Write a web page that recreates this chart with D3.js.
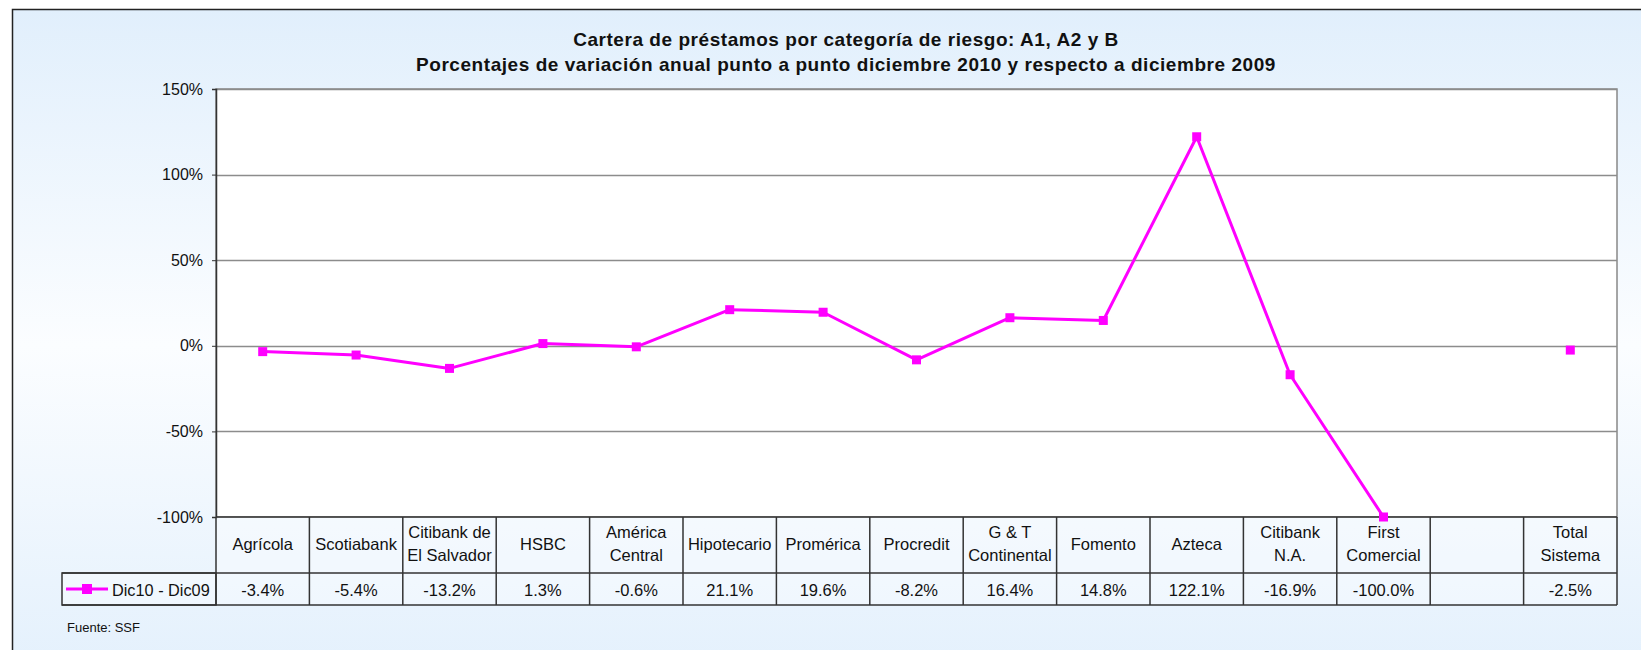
<!DOCTYPE html>
<head>
	<meta charset="utf-8">
	<title>Cartera de préstamos por categoría de riesgo</title>
	<script src="https://cdn.jsdelivr.net/npm/d3@7"></script>
	<style>
		body { margin: 0; background: #fff; }
		svg { display: block; font-family: "Liberation Sans", Arial, sans-serif; }
	</style>
</head>

<body>
	<div id="chart"></div>

  <script>
	// categories (two text lines each) and the one series
	var categories = [
		["Agrícola"], ["Scotiabank"], ["Citibank de", "El Salvador"], ["HSBC"],
		["América", "Central"], ["Hipotecario"], ["Promérica"], ["Procredit"],
		["G & T", "Continental"], ["Fomento"], ["Azteca"], ["Citibank", "N.A."],
		["First", "Comercial"], [""], ["Total", "Sistema"]
	];
	var seriesName = "Dic10 - Dic09";
	var values = [-3.4, -5.4, -13.2, 1.3, -0.6, 21.1, 19.6, -8.2, 16.4, 14.8, 122.1, -16.9, -100.0, null, -2.5];
	var yTicks = [-100, -50, 0, 50, 100, 150];
	var titleLines = [
		"Cartera de préstamos por categoría de riesgo: A1, A2 y B",
		"Porcentajes de variación anual punto a punto diciembre 2010 y respecto a diciembre 2009"
	];
	var source = "Fuente: SSF";

	var width = 1641, height = 650;
	var plot = {left: 216, right: 1617, top: 89, bottom: 517};
	var headRow = 573, valueRow = 605, legendLeft = 62;
	var magenta = "#ff00ff";

	var svg = d3.select("#chart").append("svg")
		.attr("width", width)
		.attr("height", height);

	// background gradient of the chart area
	var grad = svg.append("defs").append("linearGradient")
		.attr("id", "bg").attr("x1", 0).attr("y1", 0).attr("x2", 0).attr("y2", 1);
	grad.append("stop").attr("offset", "0%").attr("stop-color", "#e1effc");
	grad.append("stop").attr("offset", "48%").attr("stop-color", "#fbfdff");
	grad.append("stop").attr("offset", "100%").attr("stop-color", "#e1effc");

	svg.append("rect")
		.attr("x", 12.5).attr("y", 9.5)
		.attr("width", 1700).attr("height", 700)
		.attr("fill", "url(#bg)")
		.attr("stroke", "#222").attr("stroke-width", 1.5);

	var x = d3.scaleBand()
		.domain(d3.range(categories.length))
		.range([plot.left, plot.right]);

	var y = d3.scaleLinear()
		.domain([-100, 150])
		.range([plot.bottom, plot.top]);

	// plot area
	svg.append("rect")
		.attr("x", plot.left).attr("y", plot.top)
		.attr("width", plot.right - plot.left).attr("height", plot.bottom - plot.top)
		.attr("fill", "#fff")
		.attr("stroke", "#888").attr("stroke-width", 1.5);

	// gridlines
	svg.append("g")
		.selectAll("line")
		.data(yTicks.filter(function (d) { return d > -100; }))
		.enter().append("line")
			.attr("x1", plot.left).attr("x2", plot.right)
			.attr("y1", function (d) { return Math.round(y(d)) + 0.5; })
			.attr("y2", function (d) { return Math.round(y(d)) + 0.5; })
			.attr("stroke", "#8c8c8c").attr("stroke-width", 1.5);

	// y axis
	var yAxis = svg.append("g")
		.attr("transform", "translate(" + plot.left + ",0)")
		.call(d3.axisLeft(y)
			.tickValues(yTicks)
			.tickSize(4)
			.tickPadding(9)
			.tickFormat(function (d) { return d + "%"; }));
	yAxis.select(".domain").attr("stroke", "#333").attr("stroke-width", 1.5);
	yAxis.selectAll(".tick line").attr("stroke", "#333");
	yAxis.selectAll("text")
		.attr("fill", "#111")
		.style("font-size", "16px")
		.style("font-family", "'Liberation Sans', Arial, sans-serif");

	// data table
	var table = svg.append("g");
	table.selectAll("rect.cell")
		.data(categories)
		.enter().append("rect")
			.attr("class", "cell")
			.attr("x", function (d, i) { return x(i); })
			.attr("y", plot.bottom)
			.attr("width", x.bandwidth())
			.attr("height", valueRow - plot.bottom)
			.attr("fill", "rgba(255,255,255,0.35)");
	table.append("rect")
		.attr("x", legendLeft).attr("y", headRow)
		.attr("width", plot.left - legendLeft).attr("height", valueRow - headRow)
		.attr("fill", "rgba(255,255,255,0.35)")
		.attr("stroke", "#333").attr("stroke-width", 1.5);

	table.selectAll("line.col")
		.data(d3.range(categories.length + 1))
		.enter().append("line")
			.attr("class", "col")
			.attr("x1", function (i) { return i < categories.length ? x(i) : plot.right; })
			.attr("x2", function (i) { return i < categories.length ? x(i) : plot.right; })
			.attr("y1", plot.bottom).attr("y2", valueRow)
			.attr("stroke", "#333").attr("stroke-width", 1.5);
	[plot.bottom, headRow, valueRow].forEach(function (yy) {
		table.append("line")
			.attr("x1", yy === plot.bottom ? plot.left : legendLeft).attr("x2", plot.right)
			.attr("y1", yy).attr("y2", yy)
			.attr("stroke", "#333").attr("stroke-width", 1.5);
	});

	table.selectAll("text.cat")
		.data(categories)
		.enter().append("text")
			.attr("class", "cat")
			.attr("text-anchor", "middle")
			.attr("font-size", 16.5)
			.attr("fill", "#111")
			.each(function (d, i) {
				var t = d3.select(this);
				var cy = 543.5 + 6;
				d.forEach(function (line, k) {
					t.append("tspan")
						.attr("x", x(i) + x.bandwidth() / 2)
						.attr("y", cy + (k - (d.length - 1) / 2) * 22.5)
						.text(line);
				});
			});

	table.selectAll("text.val")
		.data(values)
		.enter().append("text")
			.attr("class", "val")
			.attr("text-anchor", "middle")
			.attr("font-size", 16.5)
			.attr("fill", "#111")
			.attr("x", function (d, i) { return x(i) + x.bandwidth() / 2; })
			.attr("y", 590 + 6)
			.text(function (d) { return d == null ? "" : d.toFixed(1) + "%"; });

	// legend key in the table
	var ly = (headRow + valueRow) / 2;
	table.append("line")
		.attr("x1", 66).attr("x2", 108).attr("y1", ly).attr("y2", ly)
		.attr("stroke", magenta).attr("stroke-width", 3);
	table.append("rect")
		.attr("x", 87 - 5).attr("y", ly - 5).attr("width", 10).attr("height", 10)
		.attr("fill", magenta);
	table.append("text")
		.attr("x", 112).attr("y", 590 + 6)
		.attr("font-size", 16.3).attr("fill", "#111")
		.text(seriesName);

	// series line
	var pts = values.map(function (v, i) { return {i: i, v: v}; });
	var line = d3.line()
		.defined(function (d) { return d.v != null; })
		.x(function (d) { return x(d.i) + x.bandwidth() / 2; })
		.y(function (d) { return y(d.v); });

	svg.append("path")
		.datum(pts)
		.attr("d", line)
		.attr("fill", "none")
		.attr("stroke", magenta)
		.attr("stroke-width", 3)
		.attr("stroke-linejoin", "round");

	svg.append("g")
		.selectAll("rect")
		.data(pts.filter(function (d) { return d.v != null; }))
		.enter().append("rect")
			.attr("x", function (d) { return x(d.i) + x.bandwidth() / 2 - 4.5; })
			.attr("y", function (d) { return y(d.v) - 4.5; })
			.attr("width", 9).attr("height", 9)
			.attr("fill", magenta);

	// titles
	svg.append("g")
		.selectAll("text")
		.data(titleLines)
		.enter().append("text")
			.attr("x", 846)
			.attr("y", function (d, i) { return 46 + i * 25; })
			.attr("text-anchor", "middle")
			.attr("font-size", 19)
			.attr("letter-spacing", 0.55)
			.attr("font-weight", "bold")
			.attr("fill", "#111")
			.text(function (d) { return d; });

	svg.append("text")
		.attr("x", 67).attr("y", 632)
		.attr("font-size", 13).attr("fill", "#111")
		.text(source);
	</script>
</body>
</html>
